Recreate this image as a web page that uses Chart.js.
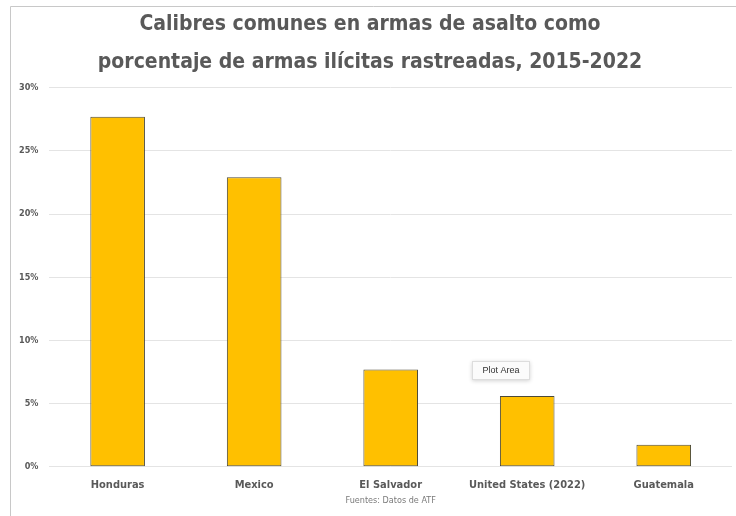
<!DOCTYPE html>
<html>
<head>
<meta charset="utf-8">
<script src="https://cdn.jsdelivr.net/npm/chart.js@4"></script>
<style>
  html, body { margin: 0; padding: 0; background: #fff; }
  #wrap { position: relative; width: 736px; height: 516px; }
</style>
</head>
<body>
<div id="wrap"><canvas id="calibresChart" width="736" height="516"></canvas></div>
<script>
  const paises = ["Honduras", "Mexico", "El Salvador", "United States (2022)", "Guatemala"];
  const porcentajes = [27.7, 22.9, 7.7, 5.6, 1.75];
  const ticksY = [0, 5, 10, 15, 20, 25, 30];
  const nota = 'Fuentes: Datos de ATF';

  const fuente = "'Liberation Sans Narrow', 'DejaVu Sans Condensed', 'Roboto', sans-serif";

  // marco gris, nota de fuentes y la etiqueta "Plot Area" de la captura
  const marco = {
    id: 'marco',
    afterDraw(chart) {
      const ctx = chart.ctx;
      const area = chart.chartArea;
      ctx.save();
      ctx.strokeStyle = '#c8c8c8';
      ctx.lineWidth = 1;
      ctx.beginPath();
      ctx.moveTo(10.5, 516);
      ctx.lineTo(10.5, 6.5);
      ctx.lineTo(736, 6.5);
      ctx.stroke();

      ctx.fillStyle = '#7a7a7a';
      ctx.font = "9px " + fuente;
      ctx.textAlign = 'center';
      ctx.textBaseline = 'middle';
      ctx.fillText(nota, (area.left + area.right) / 2, 501);

      ctx.shadowColor = 'rgba(0,0,0,0.18)';
      ctx.shadowBlur = 4;
      ctx.shadowOffsetY = 1;
      ctx.fillStyle = '#fbfbfb';
      ctx.fillRect(472, 361, 58, 19);
      ctx.shadowColor = 'transparent';
      ctx.strokeStyle = '#dddddd';
      ctx.strokeRect(472.5, 361.5, 57, 18);
      ctx.fillStyle = '#333';
      ctx.font = "9px 'Liberation Sans', sans-serif";
      ctx.fillText('Plot Area', 501, 371);
      ctx.restore();
    }
  };

  new Chart(document.getElementById("calibresChart"), {
    type: 'bar',
    data: {
      labels: paises,
      datasets: [{
        data: porcentajes,
        backgroundColor: '#FFC000',
        borderColor: '#4d4a38',
        borderWidth: 1,
        borderSkipped: false,
        categoryPercentage: 1,
        barPercentage: 0.4
      }]
    },
    options: {
      responsive: false,
      animation: false,
      layout: { padding: { left: 8, right: 4, top: 6, bottom: 12 } },
      plugins: {
        legend: { display: false },
        tooltip: { enabled: false },
        title: {
          display: true,
          text: ["Calibres comunes en armas de asalto como", "porcentaje de armas ilícitas rastreadas, 2015-2022"],
          color: '#595959',
          font: { family: fuente, size: 21, weight: 'bold', lineHeight: 1.8 },
          padding: { top: 0, bottom: 6 }
        }
      },
      scales: {
        x: {
          grid: { display: false, drawTicks: false },
          border: { display: false },
          ticks: {
            color: '#595959',
            padding: 12,
            font: { family: fuente, size: 11, weight: 'bold' }
          }
        },
        y: {
          min: 0,
          max: 30,
          afterBuildTicks(axis) {
            axis.ticks = ticksY.map(v => ({ value: v }));
          },
          grid: { color: '#e4e4e4', drawTicks: false },
          border: { display: false },
          ticks: {
            color: '#595959',
            padding: 11,
            font: { family: fuente, size: 9, weight: 'bold' },
            callback: v => v + '%'
          }
        }
      }
    },
    plugins: [marco]
  });
</script>
</body>
</html>
